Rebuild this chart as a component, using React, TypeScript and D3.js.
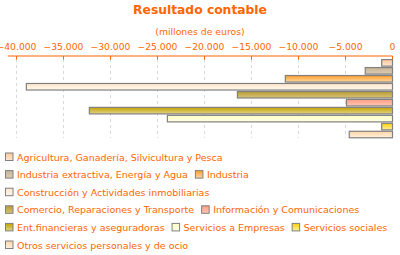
import React, { useEffect, useRef } from "react";
import * as d3 from "d3";

const categories = [
  "Agricultura, Ganadería, Silvicultura y Pesca",
  "Industria extractiva, Energía y Agua",
  "Industria",
  "Construcción y Actividades inmobiliarias",
  "Comercio, Reparaciones y Transporte",
  "Información y Comunicaciones",
  "Ent.financieras y aseguradoras",
  "Servicios a Empresas",
  "Servicios sociales",
  "Otros servicios personales y de ocio",
];
const values = [-1150, -2900, -11400, -38950, -16500, -4900, -32250, -23950, -1150, -4600];
const colorTop = ["#FFC896", "#C8B496", "#FF9E28", "#FFE6CC", "#B89A30", "#FF9C84", "#C4A200", "#FFFFC4", "#FFD000", "#FFD4A4"];
const colorBottom = ["#FFE6D0", "#DCCCB2", "#FFD8A4", "#FFF6EA", "#D8C478", "#FFC8B4", "#E2D488", "#FFFFE4", "#FFF0A0", "#FFF0DE"];
const tickValues = [-40000, -35000, -30000, -25000, -20000, -15000, -10000, -5000, 0];

const ORANGE = "#FF6600";
const FONT = "DejaVu Sans";

export default function App() {
  const ref = useRef<SVGSVGElement>(null);
  useEffect(() => {
    const svg = d3.select(ref.current);
    svg.selectAll("*").remove();
    const W = 400, H = 255;

    const defs = svg.append("defs");
    categories.forEach((_, i) => {
      const g = defs.append("linearGradient").attr("id", "g" + i).attr("x1", 0).attr("y1", 0).attr("x2", 0).attr("y2", 1);
      g.append("stop").attr("offset", "0%").attr("stop-color", colorTop[i]);
      g.append("stop").attr("offset", "100%").attr("stop-color", colorBottom[i]);
    });

    svg.append("text").attr("x", 200).attr("y", 14).attr("text-anchor", "middle")
      .attr("font-family", FONT).attr("font-weight", "bold").attr("font-size", 12.3)
      .attr("fill", ORANGE).text("Resultado contable");
    svg.append("text").attr("x", 200).attr("y", 35).attr("text-anchor", "middle")
      .attr("font-family", FONT).attr("font-size", 9.3)
      .attr("fill", ORANGE).text("(millones de euros)");

    const x = d3.scaleLinear().domain([-40000, 0]).range([16.5, 392.5]);
    const y = d3.scaleBand<number>().domain(d3.range(categories.length)).range([59.2, 138.2]).paddingInner(0.18).paddingOuter(0.05);
    const fmt = (v: number) => d3.format(",")(v).replace(/,/g, ".");

    // grid
    svg.append("g").selectAll("line").data(tickValues.slice(0, -1)).join("line")
      .attr("x1", (d) => x(d)).attr("x2", (d) => x(d)).attr("y1", 59).attr("y2", 138)
      .attr("stroke", "#d8d8d8").attr("stroke-dasharray", "3,3").attr("stroke-width", 1);

    // axis
    svg.append("line").attr("x1", 8).attr("x2", x(0)).attr("y1", 56).attr("y2", 56)
      .attr("stroke", ORANGE).attr("stroke-width", 1.2);
    svg.append("g").selectAll("line").data(tickValues).join("line")
      .attr("x1", (d) => x(d)).attr("x2", (d) => x(d)).attr("y1", 56).attr("y2", 59.5)
      .attr("stroke", ORANGE).attr("stroke-width", 1);
    svg.append("g").selectAll("text").data(tickValues).join("text")
      .attr("x", (d) => x(d)).attr("y", 49.5).attr("text-anchor", "middle")
      .attr("font-family", FONT).attr("font-size", 9.2).attr("fill", ORANGE)
      .text((d) => fmt(d));

    // bars
    svg.append("g").selectAll("rect").data(values).join("rect")
      .attr("x", (d) => x(d)).attr("width", (d) => x(0) - x(d))
      .attr("y", (_, i) => y(i)!).attr("height", y.bandwidth())
      .attr("fill", (_, i) => `url(#g${i})`)
      .attr("stroke", "#808080").attr("stroke-width", 1.2);

    // legend (flow layout)
    const lg = svg.append("g");
    let cx = 5, row = 0;
    const rowY0 = 157, rowH = 17.6, maxX = 396;
    categories.forEach((c, i) => {
      const t = lg.append("text").attr("font-family", FONT).attr("font-size", 9.5)
        .attr("fill", ORANGE).text(c);
      const tw = (t.node() as SVGTextElement).getComputedTextLength();
      const itemW = 12 + tw;
      if (cx > 5 && cx + itemW > maxX) { row++; cx = 5; }
      const cy = rowY0 + row * rowH;
      lg.append("rect").attr("x", cx + 0.5).attr("y", cy - 4).attr("width", 7.5).attr("height", 7.5)
        .attr("fill", `url(#g${i})`).attr("stroke", "#808080").attr("stroke-width", 1);
      t.attr("x", cx + 12).attr("y", cy + 3.5);
      cx += itemW + 7;
    });
  }, []);
  return <svg ref={ref} width={400} height={255} style={{ display: "block", position: "absolute", left: 0, top: 0 }} />;
}
